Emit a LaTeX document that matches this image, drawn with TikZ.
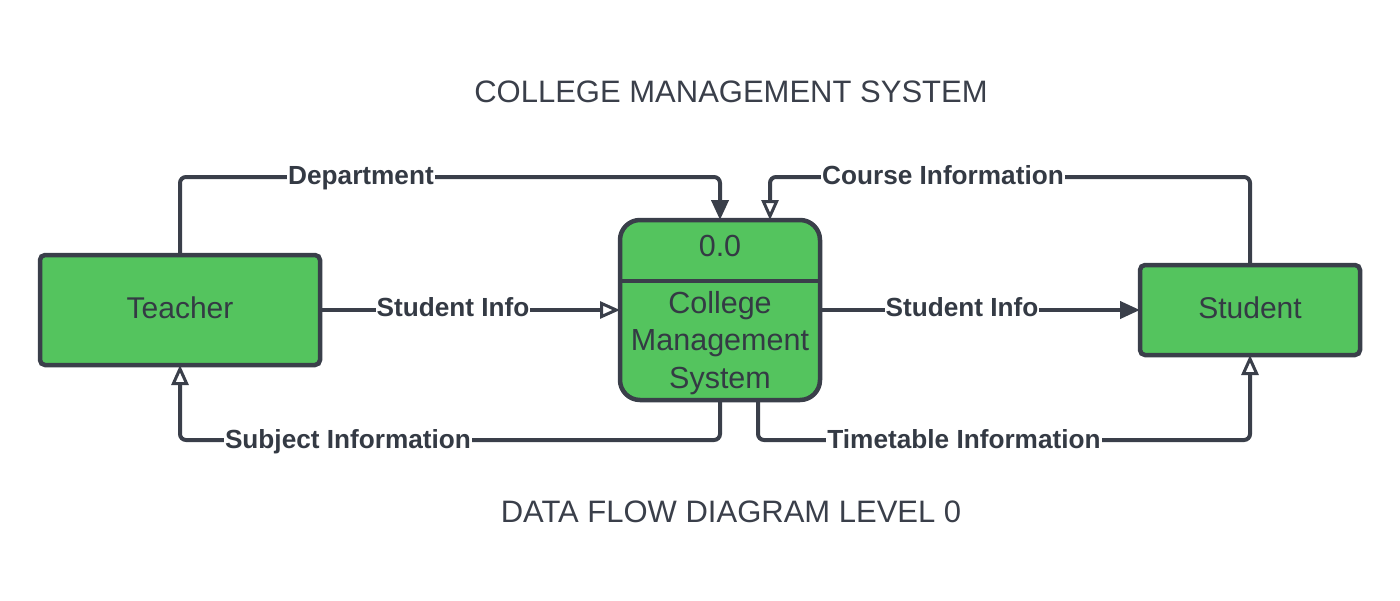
\documentclass[tikz,border=0pt]{standalone}
\usepackage{fontspec}
\setmainfont{Liberation Sans}
\usetikzlibrary{arrows.meta}
\definecolor{ink}{HTML}{3A3F4A}
\definecolor{boxgreen}{HTML}{54C45E}
\definecolor{txt}{HTML}{343A44}
\begin{document}
\begin{tikzpicture}[x=1pt,y=-1pt,
  entity/.style={draw=ink, line width=4.5pt, fill=boxgreen, rounded corners=5pt, text=txt,
    font=\fontsize{30}{36}\selectfont, inner sep=0pt, outer sep=0pt},
  proc/.style={draw=ink, line width=4.5pt, fill=boxgreen, rounded corners=20pt, inner sep=0pt, outer sep=0pt,
    minimum width=200pt, minimum height=180pt},
  ptext/.style={text=txt, font=\fontsize{30.5}{37.5}\selectfont, align=center, inner sep=0pt},
  flow/.style={draw=ink, line width=4pt, rounded corners=6pt},
  filledtip/.style={-{Triangle[length=20pt,width=17pt]}},
  opentip/.style={-{Triangle[open,length=20pt,width=17pt,line width=3pt,fill=white]}},
  lbl/.style={fill=white, text=txt, font=\bfseries\fontsize{26.2}{30}\selectfont, inner sep=1pt,
    text height=19pt, text depth=5pt},
  title/.style={text=ink, font=\fontsize{31}{36}\selectfont}
]
\useasboundingbox (0,0) rectangle (1400,600);

\node[title] (t1) at (731,92) {COLLEGE MANAGEMENT SYSTEM};
\node[title] (t2) at (731,512) {DATA FLOW DIAGRAM LEVEL 0};

\node[entity, minimum width=280pt, minimum height=110pt] (teacher) at (180,310) {\raisebox{5pt}{Teacher}};
\node[entity, minimum width=220pt, minimum height=90pt] (student) at (1250,310) {\raisebox{5pt}{Student}};
\node[proc] (cms) at (720,310) {};
\draw[ink, line width=4.5pt] (cms.west |- 0,281) -- (cms.east |- 0,281);
\node[ptext] (pid) at (720,246) {0.0};
\node[ptext] (pname) at (720,343) {College\\Management\\System};

% Department
\draw[flow, filledtip] (teacher.north) -- (180,177) -| (cms.north);
% Course Information
\draw[flow, opentip] (student.north) -- (1250,177) -| ([xshift=50pt]cms.north);
% Student Info left
\draw[flow, opentip] (teacher.east) -- (cms.west);
% Student Info right
\draw[flow, filledtip] (cms.east) -- (student.west);
% Subject Information
\draw[flow, opentip] (cms.south) -- (720,440) -| (teacher.south);
% Timetable Information
\draw[flow, opentip] ([xshift=38pt]cms.south) -- (758,440) -| (student.south);

\node[lbl] (l1) at (361,177) {Department};
\node[lbl] (l2) at (943,177) {Course Information};
\node[lbl] (l3) at (453,309) {Student Info};
\node[lbl] (l4) at (962,309) {Student Info};
\node[lbl] (l5) at (348,441) {Subject Information};
\node[lbl] (l6) at (964,441) {Timetable Information};
\end{tikzpicture}
\end{document}
